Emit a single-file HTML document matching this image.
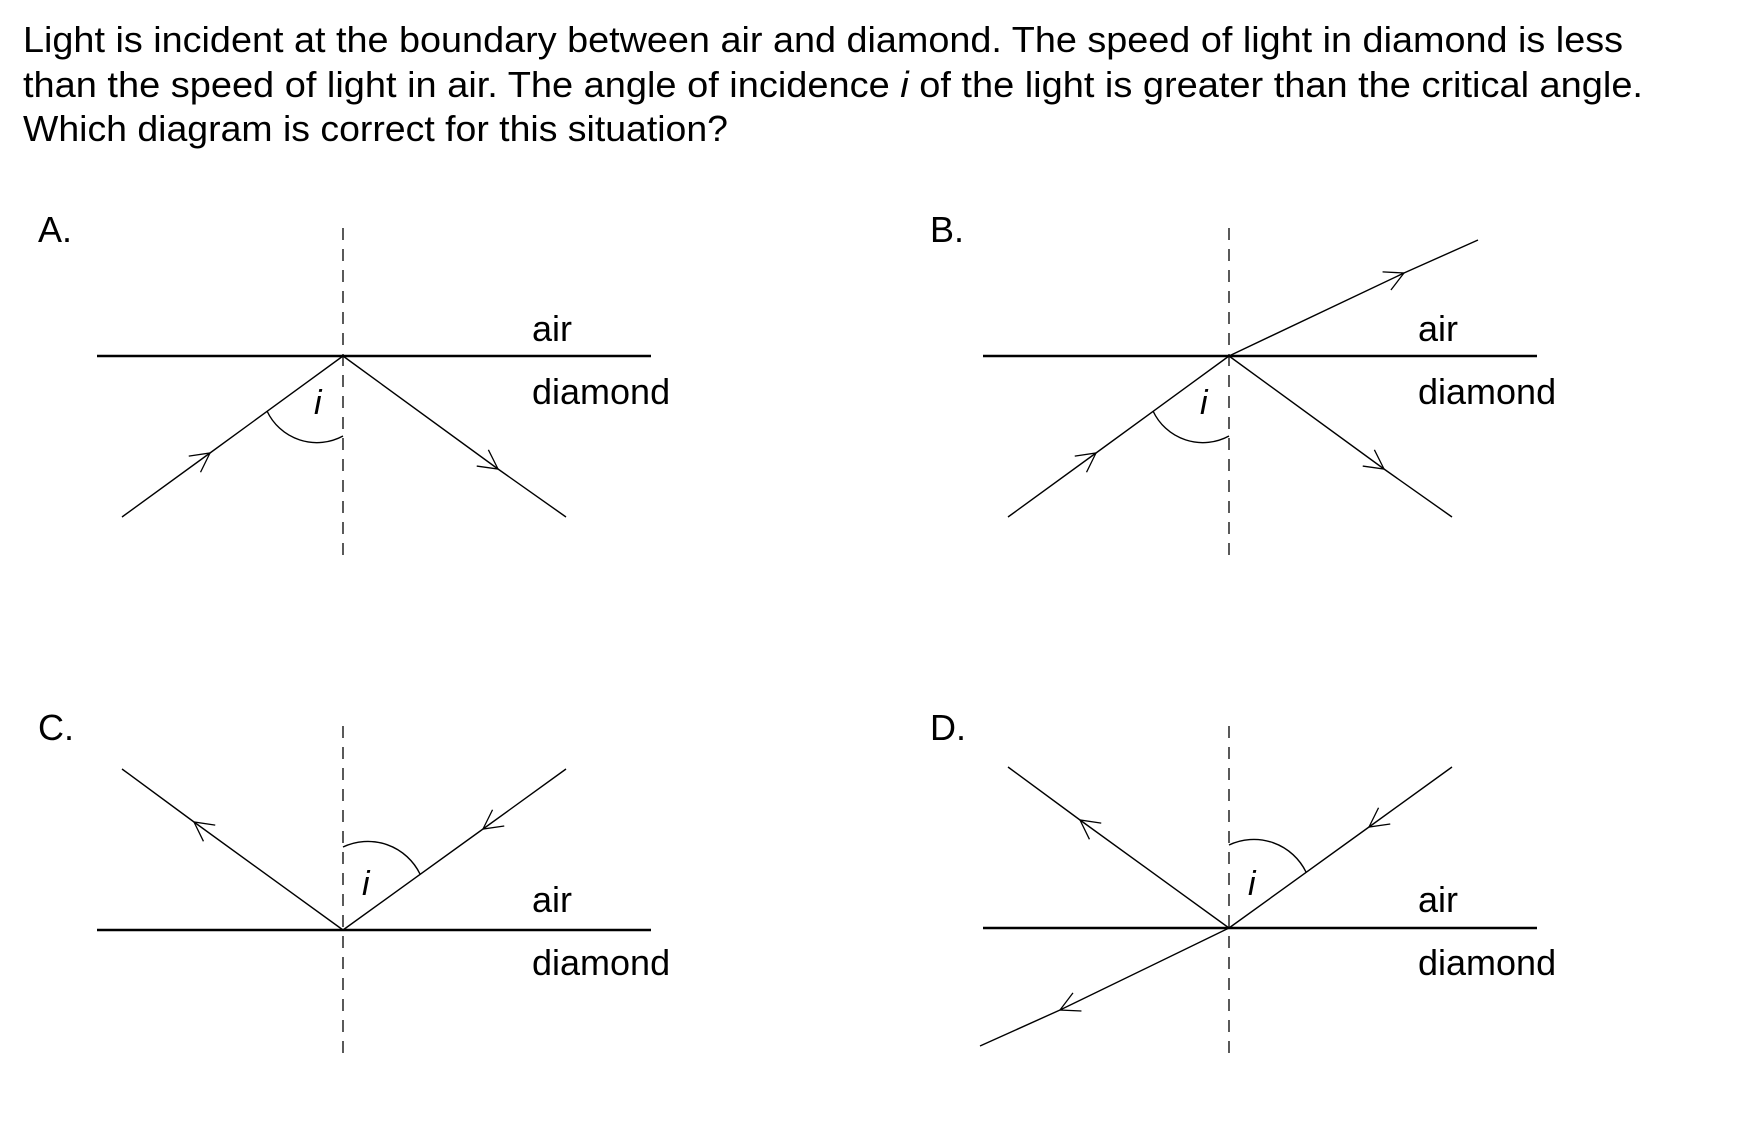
<!DOCTYPE html>
<html><head><meta charset="utf-8"><style>
html,body{margin:0;padding:0;background:#fff;}
svg{display:block;font-family:"Liberation Sans",Arial,sans-serif;}
</style></head><body>
<svg width="1762" height="1129" viewBox="0 0 1762 1129" xmlns="http://www.w3.org/2000/svg">
<defs>
<marker id="ar" markerWidth="40" markerHeight="40" refX="20" refY="20" orient="auto" markerUnits="userSpaceOnUse">
<path d="M1,10 L20,20 L1,30" fill="none" stroke="#000" stroke-width="1.3"/>
</marker>
</defs>
<g font-size="36" fill="#000">
<text x="23" y="52" textLength="1600" lengthAdjust="spacingAndGlyphs">Light is incident at the boundary between air and diamond.  The speed of light in diamond is less</text>
<text x="23" y="97" textLength="1620" lengthAdjust="spacingAndGlyphs">than the speed of light in air.  The angle of incidence <tspan font-style="italic">i</tspan> of the light is greater than the critical angle.</text>
<text x="23" y="141" textLength="705" lengthAdjust="spacingAndGlyphs">Which diagram is correct for this situation?</text>
<text x="38" y="242">A.</text>
<text x="930" y="242">B.</text>
<text x="38" y="740">C.</text>
<text x="930" y="740">D.</text>
<text x="532" y="341">air</text><text x="532" y="404">diamond</text>
<text x="1418" y="341">air</text><text x="1418" y="404">diamond</text>
<text x="532" y="912">air</text><text x="532" y="975">diamond</text>
<text x="1418" y="912">air</text><text x="1418" y="975">diamond</text>
<text x="314" y="414" font-style="italic" font-size="34">i</text>
<text x="1200" y="414" font-style="italic" font-size="34">i</text>
<text x="362" y="895" font-style="italic" font-size="34">i</text>
<text x="1248" y="895" font-style="italic" font-size="34">i</text>
</g>
<g stroke="#000" fill="none">
<g stroke-width="1.3" stroke-dasharray="12,9">
<line x1="343" y1="228" x2="343" y2="560"/>
<line x1="1229" y1="228" x2="1229" y2="560"/>
<line x1="343" y1="726" x2="343" y2="1062"/>
<line x1="1229" y1="726" x2="1229" y2="1062"/>
</g>
<g stroke-width="2.6">
<line x1="97" y1="356" x2="651" y2="356"/>
<line x1="983" y1="356" x2="1537" y2="356"/>
<line x1="97" y1="930" x2="651" y2="930"/>
<line x1="983" y1="928" x2="1537" y2="928"/>
</g>
<g stroke-width="1.4">
<polyline points="122,517 210,453 343,356" marker-mid="url(#ar)"/>
<polyline points="343,356 498,469 566,517" marker-mid="url(#ar)"/>
<path d="M343,436 A55,55 0 0 1 267,411"/>
<polyline points="1008,517 1096,453 1229,356" marker-mid="url(#ar)"/>
<polyline points="1229,356 1384,469 1452,517" marker-mid="url(#ar)"/>
<polyline points="1229,356 1404,273 1478,240" marker-mid="url(#ar)"/>
<path d="M1229,436 A55,55 0 0 1 1153,411"/>
<polyline points="343,930 194,822 122,769" marker-mid="url(#ar)"/>
<polyline points="566,769 483,829 343,930" marker-mid="url(#ar)"/>
<path d="M343,847 A58,58 0 0 1 420,874"/>
<polyline points="1229,928 1080,820 1008,767" marker-mid="url(#ar)"/>
<polyline points="1452,767 1369,827 1229,928" marker-mid="url(#ar)"/>
<polyline points="1229,928 1060,1010 980,1046" marker-mid="url(#ar)"/>
<path d="M1229,845 A58,58 0 0 1 1306,872"/>
</g>
</g>
</svg>
</body></html>
